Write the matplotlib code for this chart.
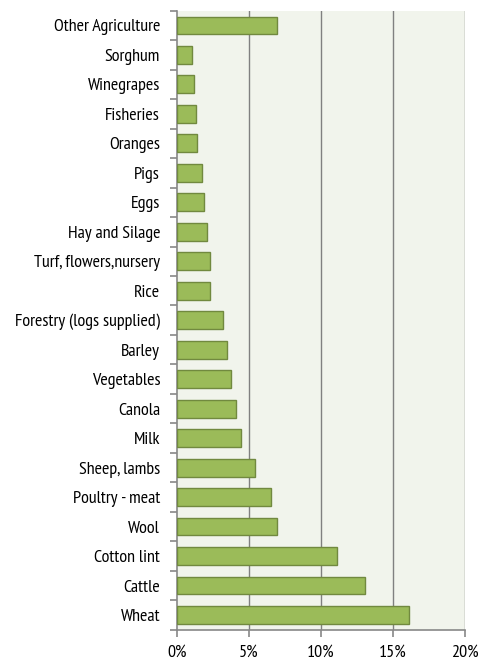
import matplotlib
matplotlib.use("Agg")
import matplotlib.pyplot as plt
from matplotlib.ticker import FixedLocator

categories = ["Other Agriculture", "Sorghum", "Winegrapes", "Fisheries", "Oranges", "Pigs",
              "Eggs", "Hay and Silage", "Turf, flowers,nursery", "Rice", "Forestry (logs supplied)",
              "Barley", "Vegetables", "Canola", "Milk", "Sheep, lambs", "Poultry - meat", "Wool",
              "Cotton lint", "Cattle", "Wheat"]
values = [6.95, 1.05, 1.17, 1.34, 1.38, 1.72, 1.85, 2.1, 2.3, 2.3, 3.2,
          3.5, 3.75, 4.1, 4.45, 5.45, 6.55, 6.95, 11.1, 13.07, 16.1]
xticks = [0, 5, 10, 15, 20]
xticklabels = ["0%", "5%", "10%", "15%", "20%"]

plt.rcParams['font.family'] = ['PT Sans Narrow', 'DejaVu Sans']

fig = plt.figure(figsize=(4.78, 6.63), dpi=100)
ax = fig.add_axes([0.370, 0.050, 0.603, 0.934])
ax.set_facecolor("#F1F4EC")

n = len(categories)
ypos = list(range(n))[::-1]
ax.barh(ypos, values, height=0.6, color="#9BBB59", edgecolor="#71893F", linewidth=1.0, zorder=3)

ax.set_xlim(0, 20)
ax.set_ylim(-0.5, n - 0.5)
ax.set_xticks(xticks)
ax.set_xticklabels(xticklabels, fontsize=13)
ax.set_yticks(ypos)
ax.set_yticklabels(categories, fontsize=13)
ax.tick_params(axis='y', length=0, pad=12)
ax.yaxis.set_minor_locator(FixedLocator([i - 0.5 for i in range(n + 1)]))
ax.tick_params(axis='y', which='minor', length=5, color="#888888", width=1.2)
ax.tick_params(axis='x', length=5, color="#888888", width=1.2, pad=6)

for x in xticks[1:]:
    ax.axvline(x, color="#808080", linewidth=1.0, zorder=1)

for s in ["top", "right"]:
    ax.spines[s].set_visible(False)
ax.spines["left"].set_color("#888888")
ax.spines["left"].set_linewidth(1.2)
ax.spines["bottom"].set_color("#888888")
ax.spines["bottom"].set_linewidth(1.2)

fig.savefig("out.png", dpi=100)
